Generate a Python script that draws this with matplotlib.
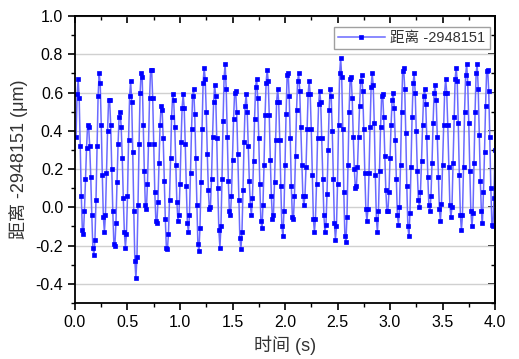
import matplotlib
matplotlib.use('Agg')
import matplotlib.pyplot as plt
import numpy as np
from matplotlib.ticker import MultipleLocator

plt.rcParams['font.family'] = ['Liberation Sans', 'Noto Sans CJK SC', 'DejaVu Sans']

# distance readings (um), one every dt seconds
dist_a = [0.37, 0.59, 0.67, 0.57, 0.32, 0.06, -0.12, -0.14, -0.02, 0.15,
          0.31, 0.43, 0.42, 0.32, 0.16, -0.04, -0.21, -0.25, -0.17, 0.04,
          0.32, 0.58, 0.70, 0.65, 0.43, 0.17, -0.05, -0.13, -0.04, 0.18,
          0.40, 0.56, 0.56, 0.43, 0.20, -0.02, -0.19, -0.20, -0.08, 0.13,
          0.33, 0.47, 0.50, 0.42, 0.26, 0.05, -0.13, -0.21, -0.14, 0.06,
          0.35, 0.58, 0.66, 0.55, 0.29, -0.02, -0.28, -0.37, -0.26, 0.01,
          0.33, 0.60, 0.70, 0.68, 0.43, 0.19, 0.01, -0.01, 0.12, 0.33,
          0.57, 0.72, 0.72, 0.57, 0.33, 0.08, -0.07, -0.08, 0.03, 0.23,
          0.43, 0.53]
dist_b = [0.51, 0.36, 0.14, -0.06, -0.21, -0.22, -0.14, 0.04, 0.26, 0.47,
          0.59, 0.56, 0.42, 0.22, 0.03, -0.07, -0.04, 0.12, 0.34, 0.52,
          0.59, 0.52, 0.33, 0.11, -0.08, -0.13, -0.04, 0.18, 0.41, 0.58,
          0.62, 0.49, 0.26, 0.01, -0.19, -0.23, -0.11, 0.13, 0.41, 0.65,
          0.73, 0.67, 0.50, 0.28, 0.09, -0.01, 0.00, 0.15, 0.37, 0.55,
          0.64, 0.58, 0.36, 0.10, -0.12, -0.21, -0.10, 0.15, 0.45, 0.68,
          0.75, 0.62, 0.37, 0.14, -0.02, -0.04, 0.06, 0.25, 0.46, 0.60,
          0.61, 0.50, 0.28, 0.04, -0.16, -0.22, -0.13, 0.09, 0.34]
dist_c = [0.53, 0.59, 0.50, 0.32, 0.14, 0.01, -0.04, 0.05, 0.24, 0.46,
          0.63, 0.67, 0.57, 0.36, 0.12, -0.07, -0.11, 0.01, 0.22, 0.48,
          0.65, 0.72, 0.66, 0.48, 0.25, 0.06, -0.06, -0.04, 0.13, 0.35,
          0.55, 0.62, 0.55, 0.35, 0.11, -0.10, -0.15, -0.02, 0.22, 0.49,
          0.69, 0.70, 0.58, 0.36, 0.11, -0.05, -0.06, 0.06, 0.27, 0.51,
          0.66, 0.70, 0.61, 0.42, 0.22, 0.06, 0.01, 0.06, 0.21, 0.41,
          0.59, 0.66, 0.59, 0.41, 0.17, -0.06, -0.13, -0.06, 0.12, 0.36,
          0.54, 0.61, 0.55, 0.36, 0.15, -0.04, -0.13, -0.09, 0.07, 0.30]
dist_d = [0.51, 0.62, 0.58, 0.40, 0.15, -0.08, -0.17, -0.10, 0.12, 0.43,
          0.70, 0.78, 0.68, 0.41, 0.08, -0.15, -0.18, -0.05, 0.22, 0.50,
          0.67, 0.68, 0.57, 0.37, 0.20, 0.10, 0.11, 0.21, 0.37, 0.53,
          0.66, 0.69, 0.61, 0.41, 0.18, -0.01, -0.07, -0.01, 0.18, 0.42,
          0.63, 0.70, 0.64, 0.44, 0.17, -0.06, -0.13, -0.02, 0.19, 0.42,
          0.58, 0.59, 0.47, 0.27, 0.09, -0.02, -0.02, 0.08, 0.26, 0.43,
          0.56, 0.60, 0.52, 0.35, 0.15, -0.04, -0.09, 0.00, 0.22, 0.50,
          0.71, 0.73, 0.62, 0.39, 0.11, -0.10, -0.15, -0.03, 0.21, 0.47]
dist_e = [0.65, 0.70, 0.60, 0.40, 0.19, 0.04, 0.00, 0.08, 0.24, 0.43,
          0.58, 0.62, 0.54, 0.37, 0.16, 0.01, -0.02, 0.06, 0.23, 0.44,
          0.60, 0.64, 0.56, 0.37, 0.16, -0.01, -0.07, 0.02, 0.22, 0.43,
          0.60, 0.67, 0.60, 0.43, 0.21, 0.01, -0.05, 0.00, 0.23, 0.47,
          0.67, 0.73, 0.66, 0.44, 0.17, -0.04, -0.12, -0.04, 0.21, 0.50,
          0.69, 0.75, 0.65, 0.44, 0.19, -0.02, -0.10, -0.03, 0.23, 0.50,
          0.70, 0.75, 0.62, 0.38, 0.14, -0.02, -0.08, 0.08, 0.29, 0.53,
          0.71, 0.72, 0.61, 0.37, 0.10, -0.09, -0.10, 0.05, 0.30]

dist = np.array(dist_a + dist_b + dist_c + dist_d + dist_e)
dt = 0.01
t = dt * np.arange(1, len(dist) + 1)

label = '距离 -2948151'

fig = plt.figure(figsize=(5.19, 3.59), dpi=100)
ax = fig.add_axes([0.1445, 0.156, 0.8093, 0.7994])

ax.plot(t, dist, '-', color='#6a6aff', lw=1.1, marker='s', ms=3.4,
        mfc='#0000ff', mec='#0000ff', mew=0.5, label=label)

ax.set_xlim(0, 4)
ax.set_ylim(-0.5, 1.0)
ax.xaxis.set_major_locator(MultipleLocator(0.5))
ax.xaxis.set_minor_locator(MultipleLocator(0.25))
ax.yaxis.set_major_locator(MultipleLocator(0.2))
ax.yaxis.set_minor_locator(MultipleLocator(0.1))
ax.set_yticks(np.arange(-0.4, 1.01, 0.2))
ax.set_yticklabels(['-0.4', '-0.2', '0.0', '0.2', '0.4', '0.6', '0.8', '1.0'])
ax.set_xticks(np.arange(0, 4.01, 0.5))
ax.set_xticklabels(['0.0', '0.5', '1.0', '1.5', '2.0', '2.5', '3.0', '3.5', '4.0'])

ax.grid(axis='y', which='major', color='#d0d0d0', lw=1.0)
ax.set_axisbelow(True)

ax.tick_params(which='major', direction='out', length=5, width=1.2, labelsize=11.5, colors='black')
ax.tick_params(which='minor', direction='out', length=3, width=1.0)

# mirrored ticks on top/right point inwards
top = ax.secondary_xaxis('top')
top.xaxis.set_major_locator(MultipleLocator(0.5))
top.xaxis.set_minor_locator(MultipleLocator(0.25))
top.tick_params(which='major', direction='in', length=5, width=1.2, labeltop=False)
top.tick_params(which='minor', direction='in', length=3, width=1.0)
right = ax.secondary_yaxis('right')
right.yaxis.set_major_locator(MultipleLocator(0.2))
right.yaxis.set_minor_locator(MultipleLocator(0.1))
right.tick_params(which='major', direction='in', length=5, width=1.2, labelright=False)
right.tick_params(which='minor', direction='in', length=3, width=1.0)

for s in ax.spines.values():
    s.set_linewidth(1.3)
top.spines['top'].set_linewidth(1.3)
right.spines['right'].set_linewidth(1.3)

ax.set_xlabel('时间 (s)', fontsize=13, color='#333333', labelpad=4)
ax.set_ylabel('距离 -2948151 (μm)', fontsize=13, color='#333333', labelpad=5)

leg = ax.legend(loc='upper right', fontsize=10.5, frameon=True, fancybox=False,
                handlelength=3.2, handletextpad=0.4, borderpad=0.3,
                borderaxespad=0.0, bbox_to_anchor=(0.988, 0.963))
leg.get_frame().set_edgecolor('#888888')
leg.get_frame().set_linewidth(1.0)
for txt in leg.get_texts():
    txt.set_color('#333333')

fig.savefig('out.png', dpi=100)
